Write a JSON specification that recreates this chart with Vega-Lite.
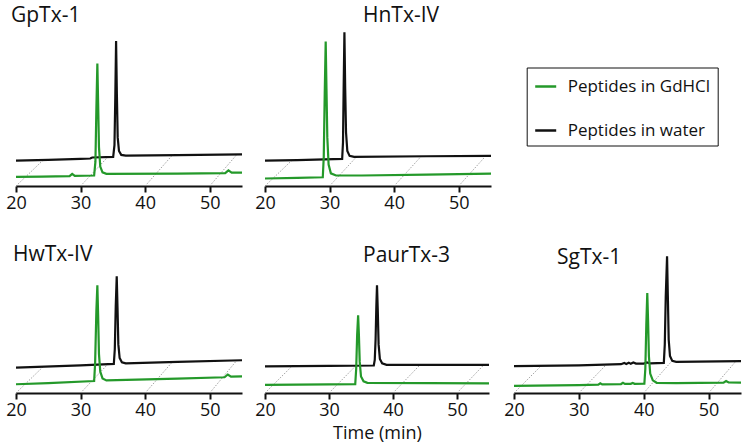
{
  "$schema": "https://vega.github.io/schema/vega-lite/v6.json",
  "background": "white",
  "padding": {"left": 5, "top": 4, "right": 2, "bottom": 2},
  "datasets": {
    "traces": [
      {"panel":"GpTx-1","series":"Peptides in water","time":20,"signal":26},
      {"panel":"GpTx-1","series":"Peptides in water","time":25,"signal":26.8},
      {"panel":"GpTx-1","series":"Peptides in water","time":30,"signal":27.8},
      {"panel":"GpTx-1","series":"Peptides in water","time":31.5,"signal":28.3},
      {"panel":"GpTx-1","series":"Peptides in water","time":31.8,"signal":29.3},
      {"panel":"GpTx-1","series":"Peptides in water","time":35.05,"signal":30},
      {"panel":"GpTx-1","series":"Peptides in water","time":35.25,"signal":42},
      {"panel":"GpTx-1","series":"Peptides in water","time":35.38,"signal":92},
      {"panel":"GpTx-1","series":"Peptides in water","time":35.5,"signal":149},
      {"panel":"GpTx-1","series":"Peptides in water","time":35.62,"signal":95},
      {"panel":"GpTx-1","series":"Peptides in water","time":35.75,"signal":50},
      {"panel":"GpTx-1","series":"Peptides in water","time":35.95,"signal":36},
      {"panel":"GpTx-1","series":"Peptides in water","time":36.3,"signal":32},
      {"panel":"GpTx-1","series":"Peptides in water","time":37,"signal":31.2},
      {"panel":"GpTx-1","series":"Peptides in water","time":45,"signal":31.8},
      {"panel":"GpTx-1","series":"Peptides in water","time":55,"signal":32.5},
      {"panel":"GpTx-1","series":"Peptides in GdHCl","time":20,"signal":9.3},
      {"panel":"GpTx-1","series":"Peptides in GdHCl","time":24,"signal":9.6},
      {"panel":"GpTx-1","series":"Peptides in GdHCl","time":28.3,"signal":10.2},
      {"panel":"GpTx-1","series":"Peptides in GdHCl","time":28.7,"signal":12.5},
      {"panel":"GpTx-1","series":"Peptides in GdHCl","time":29.1,"signal":10.4},
      {"panel":"GpTx-1","series":"Peptides in GdHCl","time":32.1,"signal":10.8},
      {"panel":"GpTx-1","series":"Peptides in GdHCl","time":32.3,"signal":25},
      {"panel":"GpTx-1","series":"Peptides in GdHCl","time":32.45,"signal":80},
      {"panel":"GpTx-1","series":"Peptides in GdHCl","time":32.6,"signal":126},
      {"panel":"GpTx-1","series":"Peptides in GdHCl","time":32.72,"signal":85},
      {"panel":"GpTx-1","series":"Peptides in GdHCl","time":32.85,"signal":40},
      {"panel":"GpTx-1","series":"Peptides in GdHCl","time":33.05,"signal":20},
      {"panel":"GpTx-1","series":"Peptides in GdHCl","time":33.4,"signal":14},
      {"panel":"GpTx-1","series":"Peptides in GdHCl","time":34,"signal":12.5},
      {"panel":"GpTx-1","series":"Peptides in GdHCl","time":45,"signal":12.8},
      {"panel":"GpTx-1","series":"Peptides in GdHCl","time":52.4,"signal":13.3},
      {"panel":"GpTx-1","series":"Peptides in GdHCl","time":52.9,"signal":16},
      {"panel":"GpTx-1","series":"Peptides in GdHCl","time":53.4,"signal":13.8},
      {"panel":"GpTx-1","series":"Peptides in GdHCl","time":55,"signal":13.7},

      {"panel":"HnTx-IV","series":"Peptides in water","time":20,"signal":26},
      {"panel":"HnTx-IV","series":"Peptides in water","time":25,"signal":26.7},
      {"panel":"HnTx-IV","series":"Peptides in water","time":31.95,"signal":27.8},
      {"panel":"HnTx-IV","series":"Peptides in water","time":32.08,"signal":45},
      {"panel":"HnTx-IV","series":"Peptides in water","time":32.18,"signal":100},
      {"panel":"HnTx-IV","series":"Peptides in water","time":32.3,"signal":158},
      {"panel":"HnTx-IV","series":"Peptides in water","time":32.42,"signal":100},
      {"panel":"HnTx-IV","series":"Peptides in water","time":32.55,"signal":55},
      {"panel":"HnTx-IV","series":"Peptides in water","time":32.75,"signal":36},
      {"panel":"HnTx-IV","series":"Peptides in water","time":33.1,"signal":31},
      {"panel":"HnTx-IV","series":"Peptides in water","time":33.8,"signal":30},
      {"panel":"HnTx-IV","series":"Peptides in water","time":45,"signal":30.6},
      {"panel":"HnTx-IV","series":"Peptides in water","time":55,"signal":31},
      {"panel":"HnTx-IV","series":"Peptides in GdHCl","time":20,"signal":7.7},
      {"panel":"HnTx-IV","series":"Peptides in GdHCl","time":25,"signal":8.3},
      {"panel":"HnTx-IV","series":"Peptides in GdHCl","time":28.95,"signal":9},
      {"panel":"HnTx-IV","series":"Peptides in GdHCl","time":29.1,"signal":30},
      {"panel":"HnTx-IV","series":"Peptides in GdHCl","time":29.25,"signal":95},
      {"panel":"HnTx-IV","series":"Peptides in GdHCl","time":29.4,"signal":148.7},
      {"panel":"HnTx-IV","series":"Peptides in GdHCl","time":29.52,"signal":100},
      {"panel":"HnTx-IV","series":"Peptides in GdHCl","time":29.65,"signal":50},
      {"panel":"HnTx-IV","series":"Peptides in GdHCl","time":29.85,"signal":22},
      {"panel":"HnTx-IV","series":"Peptides in GdHCl","time":30.2,"signal":13},
      {"panel":"HnTx-IV","series":"Peptides in GdHCl","time":31,"signal":10.8},
      {"panel":"HnTx-IV","series":"Peptides in GdHCl","time":35,"signal":10.8},
      {"panel":"HnTx-IV","series":"Peptides in GdHCl","time":45,"signal":11.8},
      {"panel":"HnTx-IV","series":"Peptides in GdHCl","time":55,"signal":12.7},

      {"panel":"HwTx-IV","series":"Peptides in water","time":20,"signal":26},
      {"panel":"HwTx-IV","series":"Peptides in water","time":30,"signal":28.5},
      {"panel":"HwTx-IV","series":"Peptides in water","time":35.15,"signal":30},
      {"panel":"HwTx-IV","series":"Peptides in water","time":35.3,"signal":45},
      {"panel":"HwTx-IV","series":"Peptides in water","time":35.45,"signal":90},
      {"panel":"HwTx-IV","series":"Peptides in water","time":35.6,"signal":120},
      {"panel":"HwTx-IV","series":"Peptides in water","time":35.72,"signal":88},
      {"panel":"HwTx-IV","series":"Peptides in water","time":35.85,"signal":50},
      {"panel":"HwTx-IV","series":"Peptides in water","time":36.05,"signal":36},
      {"panel":"HwTx-IV","series":"Peptides in water","time":36.4,"signal":31.5},
      {"panel":"HwTx-IV","series":"Peptides in water","time":37,"signal":30.5},
      {"panel":"HwTx-IV","series":"Peptides in water","time":45,"signal":32},
      {"panel":"HwTx-IV","series":"Peptides in water","time":55,"signal":33.7},
      {"panel":"HwTx-IV","series":"Peptides in GdHCl","time":20,"signal":9},
      {"panel":"HwTx-IV","series":"Peptides in GdHCl","time":25,"signal":10.2},
      {"panel":"HwTx-IV","series":"Peptides in GdHCl","time":32.1,"signal":12.3},
      {"panel":"HwTx-IV","series":"Peptides in GdHCl","time":32.25,"signal":30},
      {"panel":"HwTx-IV","series":"Peptides in GdHCl","time":32.45,"signal":85},
      {"panel":"HwTx-IV","series":"Peptides in GdHCl","time":32.6,"signal":110.7},
      {"panel":"HwTx-IV","series":"Peptides in GdHCl","time":32.72,"signal":80},
      {"panel":"HwTx-IV","series":"Peptides in GdHCl","time":32.85,"signal":40},
      {"panel":"HwTx-IV","series":"Peptides in GdHCl","time":33.05,"signal":22},
      {"panel":"HwTx-IV","series":"Peptides in GdHCl","time":33.4,"signal":15},
      {"panel":"HwTx-IV","series":"Peptides in GdHCl","time":34,"signal":13},
      {"panel":"HwTx-IV","series":"Peptides in GdHCl","time":45,"signal":14.8},
      {"panel":"HwTx-IV","series":"Peptides in GdHCl","time":52.3,"signal":16.2},
      {"panel":"HwTx-IV","series":"Peptides in GdHCl","time":52.8,"signal":19},
      {"panel":"HwTx-IV","series":"Peptides in GdHCl","time":53.3,"signal":16.8},
      {"panel":"HwTx-IV","series":"Peptides in GdHCl","time":55,"signal":17},

      {"panel":"PaurTx-3","series":"Peptides in water","time":20,"signal":27.3},
      {"panel":"PaurTx-3","series":"Peptides in water","time":30,"signal":27.9},
      {"panel":"PaurTx-3","series":"Peptides in water","time":37,"signal":28.3},
      {"panel":"PaurTx-3","series":"Peptides in water","time":37.15,"signal":34},
      {"panel":"PaurTx-3","series":"Peptides in water","time":37.28,"signal":55},
      {"panel":"PaurTx-3","series":"Peptides in water","time":37.4,"signal":90},
      {"panel":"PaurTx-3","series":"Peptides in water","time":37.5,"signal":110.7},
      {"panel":"PaurTx-3","series":"Peptides in water","time":37.62,"signal":85},
      {"panel":"PaurTx-3","series":"Peptides in water","time":37.75,"signal":50},
      {"panel":"PaurTx-3","series":"Peptides in water","time":37.95,"signal":35},
      {"panel":"PaurTx-3","series":"Peptides in water","time":38.3,"signal":30.5},
      {"panel":"PaurTx-3","series":"Peptides in water","time":39,"signal":29},
      {"panel":"PaurTx-3","series":"Peptides in water","time":55,"signal":29},
      {"panel":"PaurTx-3","series":"Peptides in GdHCl","time":20,"signal":8.3},
      {"panel":"PaurTx-3","series":"Peptides in GdHCl","time":30,"signal":8.8},
      {"panel":"PaurTx-3","series":"Peptides in GdHCl","time":34.1,"signal":9},
      {"panel":"PaurTx-3","series":"Peptides in GdHCl","time":34.25,"signal":25},
      {"panel":"PaurTx-3","series":"Peptides in GdHCl","time":34.4,"signal":60},
      {"panel":"PaurTx-3","series":"Peptides in GdHCl","time":34.55,"signal":80},
      {"panel":"PaurTx-3","series":"Peptides in GdHCl","time":34.67,"signal":60},
      {"panel":"PaurTx-3","series":"Peptides in GdHCl","time":34.8,"signal":32},
      {"panel":"PaurTx-3","series":"Peptides in GdHCl","time":35,"signal":17},
      {"panel":"PaurTx-3","series":"Peptides in GdHCl","time":35.4,"signal":12},
      {"panel":"PaurTx-3","series":"Peptides in GdHCl","time":36,"signal":10.5},
      {"panel":"PaurTx-3","series":"Peptides in GdHCl","time":55,"signal":10},

      {"panel":"SgTx-1","series":"Peptides in water","time":20,"signal":27.7},
      {"panel":"SgTx-1","series":"Peptides in water","time":30,"signal":28.4},
      {"panel":"SgTx-1","series":"Peptides in water","time":36.5,"signal":29.6},
      {"panel":"SgTx-1","series":"Peptides in water","time":37,"signal":31},
      {"panel":"SgTx-1","series":"Peptides in water","time":37.3,"signal":29.8},
      {"panel":"SgTx-1","series":"Peptides in water","time":37.7,"signal":31.2},
      {"panel":"SgTx-1","series":"Peptides in water","time":38,"signal":30},
      {"panel":"SgTx-1","series":"Peptides in water","time":38.4,"signal":31.3},
      {"panel":"SgTx-1","series":"Peptides in water","time":38.8,"signal":30.2},
      {"panel":"SgTx-1","series":"Peptides in water","time":40,"signal":30.3},
      {"panel":"SgTx-1","series":"Peptides in water","time":40.5,"signal":31.5},
      {"panel":"SgTx-1","series":"Peptides in water","time":41,"signal":30.4},
      {"panel":"SgTx-1","series":"Peptides in water","time":43.1,"signal":31},
      {"panel":"SgTx-1","series":"Peptides in water","time":43.25,"signal":50},
      {"panel":"SgTx-1","series":"Peptides in water","time":43.4,"signal":100},
      {"panel":"SgTx-1","series":"Peptides in water","time":43.6,"signal":140.7},
      {"panel":"SgTx-1","series":"Peptides in water","time":43.72,"signal":100},
      {"panel":"SgTx-1","series":"Peptides in water","time":43.85,"signal":55},
      {"panel":"SgTx-1","series":"Peptides in water","time":44.05,"signal":38},
      {"panel":"SgTx-1","series":"Peptides in water","time":44.4,"signal":33},
      {"panel":"SgTx-1","series":"Peptides in water","time":45,"signal":32},
      {"panel":"SgTx-1","series":"Peptides in water","time":55,"signal":32.7},
      {"panel":"SgTx-1","series":"Peptides in GdHCl","time":20,"signal":7.3},
      {"panel":"SgTx-1","series":"Peptides in GdHCl","time":30,"signal":8.2},
      {"panel":"SgTx-1","series":"Peptides in GdHCl","time":33,"signal":8.6},
      {"panel":"SgTx-1","series":"Peptides in GdHCl","time":33.3,"signal":10},
      {"panel":"SgTx-1","series":"Peptides in GdHCl","time":33.6,"signal":8.8},
      {"panel":"SgTx-1","series":"Peptides in GdHCl","time":36.5,"signal":9.2},
      {"panel":"SgTx-1","series":"Peptides in GdHCl","time":36.8,"signal":10.4},
      {"panel":"SgTx-1","series":"Peptides in GdHCl","time":37.1,"signal":9.3},
      {"panel":"SgTx-1","series":"Peptides in GdHCl","time":38,"signal":9.4},
      {"panel":"SgTx-1","series":"Peptides in GdHCl","time":38.3,"signal":10.3},
      {"panel":"SgTx-1","series":"Peptides in GdHCl","time":38.6,"signal":9.4},
      {"panel":"SgTx-1","series":"Peptides in GdHCl","time":40.1,"signal":9.5},
      {"panel":"SgTx-1","series":"Peptides in GdHCl","time":40.25,"signal":25},
      {"panel":"SgTx-1","series":"Peptides in GdHCl","time":40.4,"signal":70},
      {"panel":"SgTx-1","series":"Peptides in GdHCl","time":40.55,"signal":102.7},
      {"panel":"SgTx-1","series":"Peptides in GdHCl","time":40.67,"signal":75},
      {"panel":"SgTx-1","series":"Peptides in GdHCl","time":40.8,"signal":38},
      {"panel":"SgTx-1","series":"Peptides in GdHCl","time":41,"signal":20},
      {"panel":"SgTx-1","series":"Peptides in GdHCl","time":41.4,"signal":13},
      {"panel":"SgTx-1","series":"Peptides in GdHCl","time":42,"signal":10.5},
      {"panel":"SgTx-1","series":"Peptides in GdHCl","time":45,"signal":10.2},
      {"panel":"SgTx-1","series":"Peptides in GdHCl","time":52.3,"signal":10.6},
      {"panel":"SgTx-1","series":"Peptides in GdHCl","time":52.7,"signal":12.3},
      {"panel":"SgTx-1","series":"Peptides in GdHCl","time":53.1,"signal":10.8},
      {"panel":"SgTx-1","series":"Peptides in GdHCl","time":55,"signal":10.7}
    ],
    "guides": [
      {"panel":"GpTx-1","from":20,"to":24.2,"base":0,"level":26.6},
      {"panel":"GpTx-1","from":30,"to":34.2,"base":0,"level":29.7},
      {"panel":"GpTx-1","from":40,"to":44.2,"base":0,"level":31.6},
      {"panel":"GpTx-1","from":50,"to":54.2,"base":0,"level":32.4},
      {"panel":"HnTx-IV","from":20,"to":24.2,"base":0,"level":26.6},
      {"panel":"HnTx-IV","from":30,"to":34.2,"base":0,"level":30.2},
      {"panel":"HnTx-IV","from":40,"to":44.2,"base":0,"level":30.6},
      {"panel":"HnTx-IV","from":50,"to":54.2,"base":0,"level":31},
      {"panel":"HwTx-IV","from":20,"to":24.2,"base":0,"level":27},
      {"panel":"HwTx-IV","from":30,"to":34.2,"base":0,"level":29.5},
      {"panel":"HwTx-IV","from":40,"to":44.2,"base":0,"level":31.8},
      {"panel":"HwTx-IV","from":50,"to":54.2,"base":0,"level":33.6},
      {"panel":"PaurTx-3","from":20,"to":24.2,"base":0,"level":27.5},
      {"panel":"PaurTx-3","from":30,"to":34.2,"base":0,"level":28.1},
      {"panel":"PaurTx-3","from":40,"to":44.2,"base":0,"level":28.8},
      {"panel":"PaurTx-3","from":50,"to":54.2,"base":0,"level":29},
      {"panel":"SgTx-1","from":20,"to":24.2,"base":0,"level":28},
      {"panel":"SgTx-1","from":30,"to":34.2,"base":0,"level":29},
      {"panel":"SgTx-1","from":40,"to":44.2,"base":0,"level":31.8},
      {"panel":"SgTx-1","from":50,"to":54.2,"base":0,"level":32.6}
    ]
  },
  "bounds": "flush",
  "columns": 3,
  "spacing": {"row": 32, "column": 23},
  "concat": [
    {
      "width": 226, "height": 175,
      "title": {"text": "GpTx-1", "dx": -5, "dy": 19.2},
      "layer": [
        {"data": {"name": "guides"}, "transform": [{"filter": "datum.panel === 'GpTx-1'"}],
         "mark": {"type": "rule", "color": "#8a8a8a", "strokeWidth": 0.8, "strokeDash": [1.5, 1.5]},
         "encoding": {"x": {"field": "from", "type": "quantitative", "scale": {"domain": [20, 55], "nice": false}, "axis": {"values": [20, 30, 40, 50], "title": null}}, "x2": {"field": "to"}, "y": {"field": "base", "type": "quantitative", "scale": {"domain": [0, 175]}, "axis": null}, "y2": {"field": "level"}}},
        {"data": {"name": "traces"}, "transform": [{"filter": "datum.panel === 'GpTx-1' && datum.series === 'Peptides in water'"}],
         "mark": {"type": "line", "strokeWidth": 2.2},
         "encoding": {"x": {"field": "time", "type": "quantitative"}, "y": {"field": "signal", "type": "quantitative"}, "color": {"field": "series", "type": "nominal"}}},
        {"data": {"name": "traces"}, "transform": [{"filter": "datum.panel === 'GpTx-1' && datum.series === 'Peptides in GdHCl'"}],
         "mark": {"type": "line", "strokeWidth": 2.2},
         "encoding": {"x": {"field": "time", "type": "quantitative"}, "y": {"field": "signal", "type": "quantitative"}, "color": {"field": "series", "type": "nominal"}}}
      ]
    },
    {
      "width": 226, "height": 175,
      "title": {"text": "HnTx-IV", "dx": 98, "dy": 18.5},
      "layer": [
        {"data": {"name": "guides"}, "transform": [{"filter": "datum.panel === 'HnTx-IV'"}],
         "mark": {"type": "rule", "color": "#8a8a8a", "strokeWidth": 0.8, "strokeDash": [1.5, 1.5]},
         "encoding": {"x": {"field": "from", "type": "quantitative", "scale": {"domain": [20, 55], "nice": false}, "axis": {"values": [20, 30, 40, 50], "title": null}}, "x2": {"field": "to"}, "y": {"field": "base", "type": "quantitative", "scale": {"domain": [0, 175]}, "axis": null}, "y2": {"field": "level"}}},
        {"data": {"name": "traces"}, "transform": [{"filter": "datum.panel === 'HnTx-IV' && datum.series === 'Peptides in water'"}],
         "mark": {"type": "line", "strokeWidth": 2.2},
         "encoding": {"x": {"field": "time", "type": "quantitative"}, "y": {"field": "signal", "type": "quantitative"}, "color": {"field": "series", "type": "nominal"}}},
        {"data": {"name": "traces"}, "transform": [{"filter": "datum.panel === 'HnTx-IV' && datum.series === 'Peptides in GdHCl'"}],
         "mark": {"type": "line", "strokeWidth": 2.2},
         "encoding": {"x": {"field": "time", "type": "quantitative"}, "y": {"field": "signal", "type": "quantitative"}, "color": {"field": "series", "type": "nominal"}}}
      ]
    },
    {
      "width": 227, "height": 175,
      "data": {"values": []},
      "mark": "point",
      "encoding": {}
    },
    {
      "width": 226, "height": 175,
      "title": {"text": "HwTx-IV", "dx": -3, "dy": 51.3},
      "layer": [
        {"data": {"name": "guides"}, "transform": [{"filter": "datum.panel === 'HwTx-IV'"}],
         "mark": {"type": "rule", "color": "#8a8a8a", "strokeWidth": 0.8, "strokeDash": [1.5, 1.5]},
         "encoding": {"x": {"field": "from", "type": "quantitative", "scale": {"domain": [20, 55], "nice": false}, "axis": {"values": [20, 30, 40, 50], "title": null}}, "x2": {"field": "to"}, "y": {"field": "base", "type": "quantitative", "scale": {"domain": [0, 175]}, "axis": null}, "y2": {"field": "level"}}},
        {"data": {"name": "traces"}, "transform": [{"filter": "datum.panel === 'HwTx-IV' && datum.series === 'Peptides in water'"}],
         "mark": {"type": "line", "strokeWidth": 2.2},
         "encoding": {"x": {"field": "time", "type": "quantitative"}, "y": {"field": "signal", "type": "quantitative"}, "color": {"field": "series", "type": "nominal"}}},
        {"data": {"name": "traces"}, "transform": [{"filter": "datum.panel === 'HwTx-IV' && datum.series === 'Peptides in GdHCl'"}],
         "mark": {"type": "line", "strokeWidth": 2.2},
         "encoding": {"x": {"field": "time", "type": "quantitative"}, "y": {"field": "signal", "type": "quantitative"}, "color": {"field": "series", "type": "nominal"}}}
      ]
    },
    {
      "width": 224, "height": 175,
      "title": {"text": "PaurTx-3", "dx": 98, "dy": 51.5},
      "layer": [
        {"data": {"name": "guides"}, "transform": [{"filter": "datum.panel === 'PaurTx-3'"}],
         "mark": {"type": "rule", "color": "#8a8a8a", "strokeWidth": 0.8, "strokeDash": [1.5, 1.5]},
         "encoding": {"x": {"field": "from", "type": "quantitative", "scale": {"domain": [20, 55], "nice": false}, "axis": {"values": [20, 30, 40, 50], "title": "Time (min)"}}, "x2": {"field": "to"}, "y": {"field": "base", "type": "quantitative", "scale": {"domain": [0, 175]}, "axis": null}, "y2": {"field": "level"}}},
        {"data": {"name": "traces"}, "transform": [{"filter": "datum.panel === 'PaurTx-3' && datum.series === 'Peptides in water'"}],
         "mark": {"type": "line", "strokeWidth": 2.2},
         "encoding": {"x": {"field": "time", "type": "quantitative"}, "y": {"field": "signal", "type": "quantitative"}, "color": {"field": "series", "type": "nominal"}}},
        {"data": {"name": "traces"}, "transform": [{"filter": "datum.panel === 'PaurTx-3' && datum.series === 'Peptides in GdHCl'"}],
         "mark": {"type": "line", "strokeWidth": 2.2},
         "encoding": {"x": {"field": "time", "type": "quantitative"}, "y": {"field": "signal", "type": "quantitative"}, "color": {"field": "series", "type": "nominal"}}}
      ]
    },
    {
      "width": 227, "height": 175,
      "title": {"text": "SgTx-1", "dx": 43, "dy": 53.5},
      "layer": [
        {"data": {"name": "guides"}, "transform": [{"filter": "datum.panel === 'SgTx-1'"}],
         "mark": {"type": "rule", "color": "#8a8a8a", "strokeWidth": 0.8, "strokeDash": [1.5, 1.5]},
         "encoding": {"x": {"field": "from", "type": "quantitative", "scale": {"domain": [20, 55], "nice": false}, "axis": {"values": [20, 30, 40, 50], "title": null}}, "x2": {"field": "to"}, "y": {"field": "base", "type": "quantitative", "scale": {"domain": [0, 175]}, "axis": null}, "y2": {"field": "level"}}},
        {"data": {"name": "traces"}, "transform": [{"filter": "datum.panel === 'SgTx-1' && datum.series === 'Peptides in water'"}],
         "mark": {"type": "line", "strokeWidth": 2.2},
         "encoding": {"x": {"field": "time", "type": "quantitative"}, "y": {"field": "signal", "type": "quantitative"}, "color": {"field": "series", "type": "nominal"}}},
        {"data": {"name": "traces"}, "transform": [{"filter": "datum.panel === 'SgTx-1' && datum.series === 'Peptides in GdHCl'"}],
         "mark": {"type": "line", "strokeWidth": 2.2},
         "encoding": {"x": {"field": "time", "type": "quantitative"}, "y": {"field": "signal", "type": "quantitative"}, "color": {"field": "series", "type": "nominal"}}}
      ]
    }
  ],
  "config": {
    "view": {"stroke": null},
    "font": "Open Sans",
    "range": {"category": ["#24992a", "#111111"]},
    "axis": {"grid": false, "labelFlush": false, "domainColor": "#111111", "domainWidth": 2, "tickColor": "#111111", "tickWidth": 2, "tickSize": 6, "labelFontSize": 18, "labelFont": "Open Sans", "labelColor": "#111111", "labelPadding": 2, "titleFontSize": 18, "titleFont": "Open Sans", "titleFontWeight": "normal", "titleColor": "#111111", "titlePadding": 5},
    "legend": {"orient": "none", "legendX": 510.7, "legendY": 56.5, "direction": "vertical", "title": null, "strokeColor": "#111111", "fillColor": "white", "padding": 7, "cornerRadius": 0, "symbolType": "stroke", "symbolSize": 441, "symbolStrokeWidth": 2.5, "labelFontSize": 17, "labelFont": "Open Sans", "labelColor": "#111111", "labelOffset": 10, "rowPadding": 24, "labelLimit": 300},
    "title": {"fontSize": 21, "font": "Open Sans", "fontWeight": "normal", "color": "#111111", "anchor": "start", "frame": "group", "offset": 0, "baseline": "alphabetic"}
  }
}
